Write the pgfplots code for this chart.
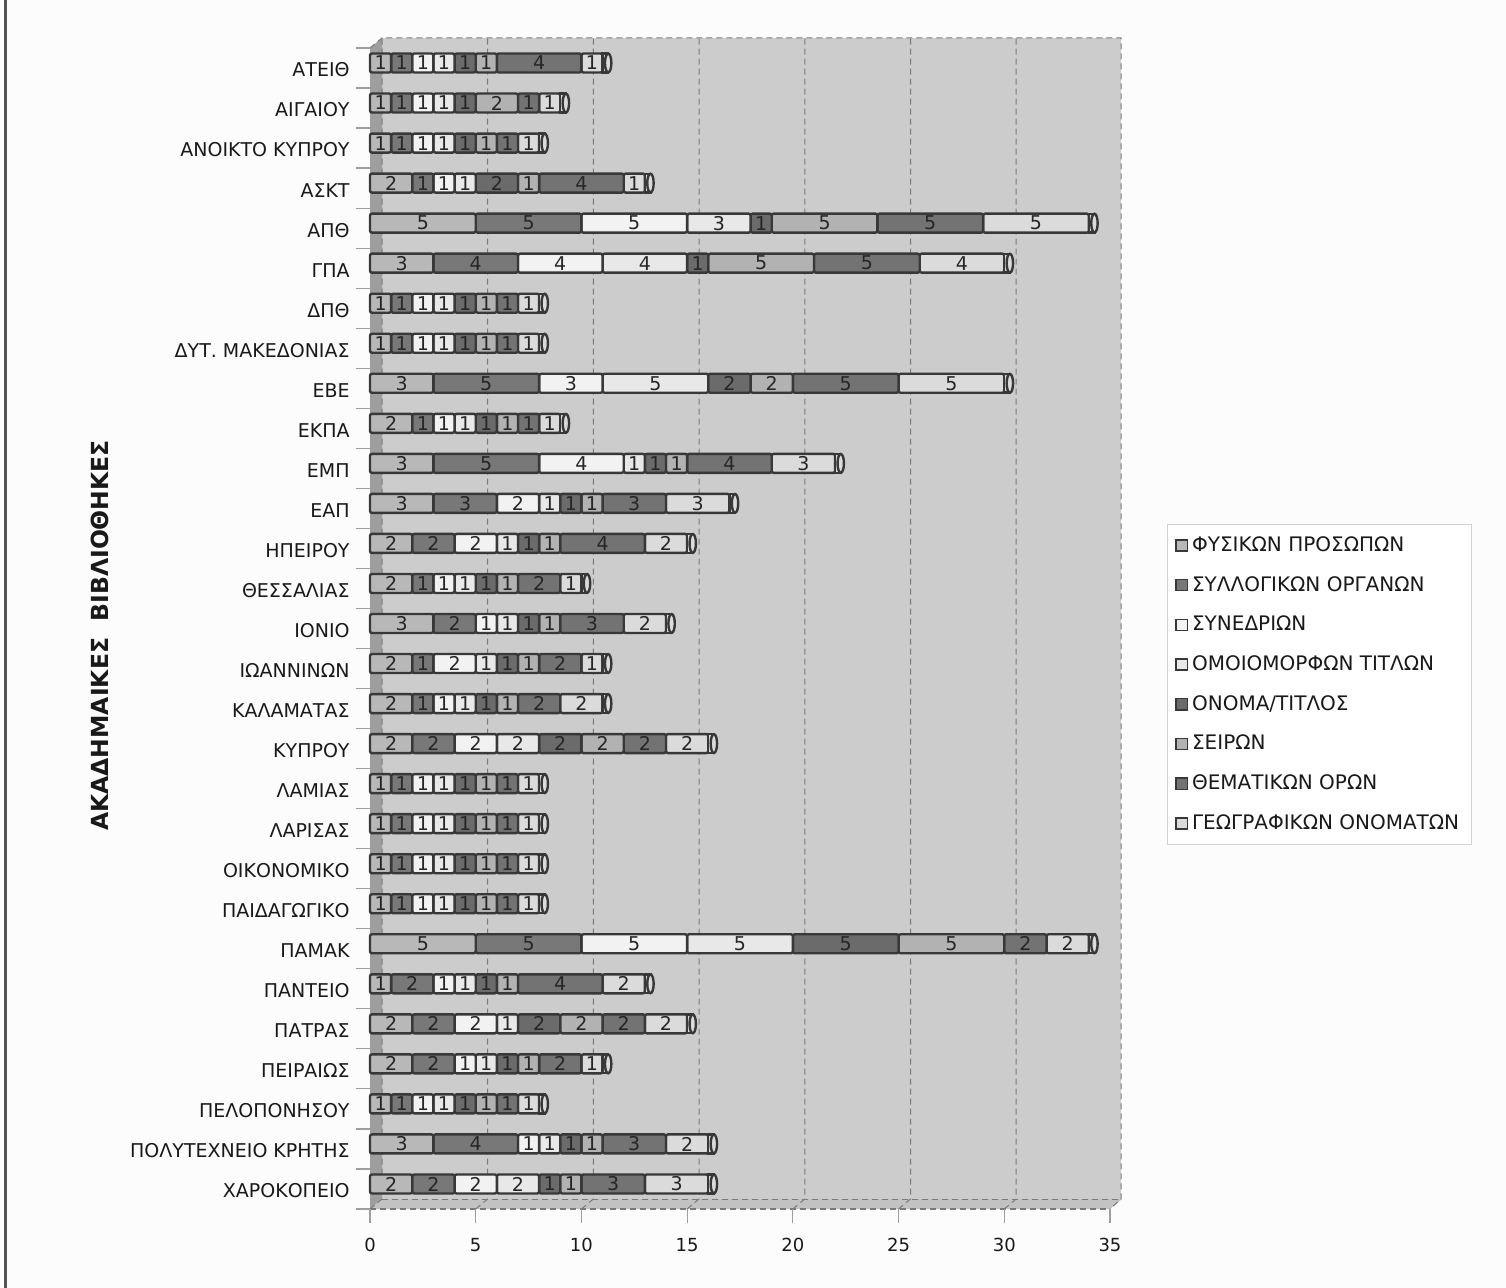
\documentclass[border=0pt]{standalone}
\usepackage{fontspec}
\setmainfont{DejaVu Sans}
\usepackage{pgfplots}
\usepackage{pgfplotstable}
\pgfplotsset{compat=1.18}
\pgfplotstableread{
y a b c d e f g h t
0 1 1 1 1 1 1 4 1 11
-1 1 1 1 1 1 2 1 1 9
-2 1 1 1 1 1 1 1 1 8
-3 2 1 1 1 2 1 4 1 13
-4 5 5 5 3 1 5 5 5 34
-5 3 4 4 4 1 5 5 4 30
-6 1 1 1 1 1 1 1 1 8
-7 1 1 1 1 1 1 1 1 8
-8 3 5 3 5 2 2 5 5 30
-9 2 1 1 1 1 1 1 1 9
-10 3 5 4 1 1 1 4 3 22
-11 3 3 2 1 1 1 3 3 17
-12 2 2 2 1 1 1 4 2 15
-13 2 1 1 1 1 1 2 1 10
-14 3 2 1 1 1 1 3 2 14
-15 2 1 2 1 1 1 2 1 11
-16 2 1 1 1 1 1 2 2 11
-17 2 2 2 2 2 2 2 2 16
-18 1 1 1 1 1 1 1 1 8
-19 1 1 1 1 1 1 1 1 8
-20 1 1 1 1 1 1 1 1 8
-21 1 1 1 1 1 1 1 1 8
-22 5 5 5 5 5 5 2 2 34
-23 1 2 1 1 1 1 4 2 13
-24 2 2 2 1 2 2 2 2 15
-25 2 2 1 1 1 1 2 1 11
-26 1 1 1 1 1 1 1 1 8
-27 3 4 1 1 1 1 3 2 16
-28 2 2 2 2 1 1 3 3 16
}\data
\definecolor{sa}{gray}{0.72}
\definecolor{sb}{gray}{0.47}
\definecolor{sc}{gray}{0.95}
\definecolor{sd}{gray}{0.91}
\definecolor{se}{gray}{0.42}
\definecolor{sf}{gray}{0.70}
\definecolor{sg}{gray}{0.45}
\definecolor{sh}{gray}{0.86}
\definecolor{barline}{gray}{0.22}
\definecolor{wall}{gray}{0.80}
\definecolor{sidewall}{gray}{0.62}
\definecolor{floorc}{gray}{0.76}
\definecolor{gridc}{gray}{0.48}
\definecolor{tickc}{gray}{0.62}
\pgfdeclareplotmark{barcap}{%
  \pgfsetlinewidth{1.2pt}\pgfsetstrokecolor{barline}\pgfsetfillcolor{sh}%
  \pgfpathmoveto{\pgfpoint{0pt}{7.2pt}}%
  \pgfpathlineto{\pgfpoint{2.8pt}{7.2pt}}%
  \pgfpathlineto{\pgfpoint{2.8pt}{-2.2pt}}%
  \pgfpathlineto{\pgfpoint{0pt}{-2.2pt}}%
  \pgfpathclose\pgfusepath{fill,stroke}%
  \pgfpathellipse{\pgfpoint{2.8pt}{2.5pt}}{\pgfpoint{1.6pt}{0pt}}{\pgfpoint{0pt}{4.7pt}}%
  \pgfusepath{fill,stroke}%
}
\begin{document}
\begin{tikzpicture}
\begin{scope}[x=0.5pt,y=-0.5pt]
\useasboundingbox (0,0) rectangle (1506,1288);
\fill[gray!2] (0,0) rectangle (1506,1288);
\fill[gray!65!black] (4,0) rectangle (7,1288);
% back wall, side wall and floor
\fill[wall] (382,38) rectangle (1121,1199);
\fill[sidewall] (370,48) -- (382,38) -- (382,1199) -- (370,1209) -- cycle;
\fill[floorc] (370,1209) -- (382,1199) -- (1122,1199) -- (1110,1209) -- cycle;
\draw[gridc,line width=0.5pt,densely dashed] (370,48) -- (382,38) -- (1121,38) -- (1121,1199) -- (1110,1209);
\draw[gridc,line width=0.5pt,densely dashed] (382,1199) -- (1121,1199);
\foreach \g in {0,5,...,30}{
  \draw[gridc,line width=0.5pt,densely dashed] (370+21.14*\g,1209) -- (382+21.14*\g,1199) -- (382+21.14*\g,38);
}
\draw[gridc,line width=0.7pt,densely dashed] (370,1209) -- (1110,1209);
\end{scope}
\begin{axis}[
  at={(185pt,-604.5pt)},anchor=south west,
  scale only axis,width=370pt,height=580.5pt,
  xmin=0,xmax=35,ymin=-28.5,ymax=0.5,
  xbar stacked,bar width=9.5pt,clip=false,
  axis x line*=bottom,axis y line*=left,
  axis line style={draw=none},
  tick align=outside,
  xtick={0,5,...,35},
  major tick style={draw=tickc,line width=0.6pt},
  ytick={0,-1,...,-28},
  yticklabels={ΑΤΕΙΘ,ΑΙΓΑΙΟΥ,ΑΝΟΙΚΤΟ ΚΥΠΡΟΥ,ΑΣΚΤ,ΑΠΘ,ΓΠΑ,ΔΠΘ,ΔΥΤ. ΜΑΚΕΔΟΝΙΑΣ,ΕΒΕ,ΕΚΠΑ,ΕΜΠ,ΕΑΠ,ΗΠΕΙΡΟΥ,ΘΕΣΣΑΛΙΑΣ,ΙΟΝΙΟ,ΙΩΑΝΝΙΝΩΝ,ΚΑΛΑΜΑΤΑΣ,ΚΥΠΡΟΥ,ΛΑΜΙΑΣ,ΛΑΡΙΣΑΣ,ΟΙΚΟΝΟΜΙΚΟ,ΠΑΙΔΑΓΩΓΙΚΟ,ΠΑΜΑΚ,ΠΑΝΤΕΙΟ,ΠΑΤΡΑΣ,ΠΕΙΡΑΙΩΣ,ΠΕΛΟΠΟΝΗΣΟΥ,ΠΟΛΥΤΕΧΝΕΙΟ ΚΡΗΤΗΣ,ΧΑΡΟΚΟΠΕΙΟ},
  minor ytick={0.5,-0.5,...,-28.5},
  minor tick length=7pt,
  major tick length=7pt,
  major y tick style={draw=none},
  minor y tick style={draw=tickc,line width=0.6pt},
  yticklabel style={font=\fontsize{9.5}{10}\selectfont,text=black!90,xshift=-2pt,yshift=-1pt,inner sep=1pt},
  xticklabel style={font=\fontsize{9}{10}\selectfont,text=black!90,yshift=-4pt,/pgf/number format/assume math mode=true},
  ylabel={ΑΚΑΔΗΜΑΙΚΕΣ\ \ ΒΙΒΛΙΟΘΗΚΕΣ},
  every axis y label/.style={at={(axis description cs:-0.365,0.494)},rotate=90,anchor=center,font=\fontsize{11.75}{12}\selectfont\bfseries,text=black!90},
  every node near coord/.append style={font=\fontsize{9.5}{10}\selectfont,text=black!85,anchor=center,inner sep=0pt},
  legend style={at={(1.077,0.59)},anchor=north west,draw=gray!35,fill=white,line width=0.5pt,
    font=\fontsize{10}{10}\selectfont,text=black!90,row sep=6.95pt,inner xsep=4pt,inner ysep=4pt,
    cells={anchor=west}},
  legend image code/.code={\draw[#1,line width=0.7pt,draw=barline,rounded corners=0pt] (0pt,-2.8pt) rectangle (5.6pt,2.8pt);},
]
\addplot[fill=sa,draw=barline,line width=1.2pt,rounded corners=1pt,bar shift=2.5pt,nodes near coords={\pgfmathprintnumber[assume math mode=true]{\val}},visualization depends on={\thisrow{a} \as \val}] table[x=a,y=y] {\data};
\addplot[fill=sb,draw=barline,line width=1.2pt,rounded corners=1pt,bar shift=2.5pt,nodes near coords={\pgfmathprintnumber[assume math mode=true]{\val}},visualization depends on={\thisrow{b} \as \val}] table[x=b,y=y] {\data};
\addplot[fill=sc,draw=barline,line width=1.2pt,rounded corners=1pt,bar shift=2.5pt,nodes near coords={\pgfmathprintnumber[assume math mode=true]{\val}},visualization depends on={\thisrow{c} \as \val}] table[x=c,y=y] {\data};
\addplot[fill=sd,draw=barline,line width=1.2pt,rounded corners=1pt,bar shift=2.5pt,nodes near coords={\pgfmathprintnumber[assume math mode=true]{\val}},visualization depends on={\thisrow{d} \as \val}] table[x=d,y=y] {\data};
\addplot[fill=se,draw=barline,line width=1.2pt,rounded corners=1pt,bar shift=2.5pt,nodes near coords={\pgfmathprintnumber[assume math mode=true]{\val}},visualization depends on={\thisrow{e} \as \val}] table[x=e,y=y] {\data};
\addplot[fill=sf,draw=barline,line width=1.2pt,rounded corners=1pt,bar shift=2.5pt,nodes near coords={\pgfmathprintnumber[assume math mode=true]{\val}},visualization depends on={\thisrow{f} \as \val}] table[x=f,y=y] {\data};
\addplot[fill=sg,draw=barline,line width=1.2pt,rounded corners=1pt,bar shift=2.5pt,nodes near coords={\pgfmathprintnumber[assume math mode=true]{\val}},visualization depends on={\thisrow{g} \as \val}] table[x=g,y=y] {\data};
\addplot[fill=sh,draw=barline,line width=1.2pt,rounded corners=1pt,bar shift=2.5pt,nodes near coords={\pgfmathprintnumber[assume math mode=true]{\val}},visualization depends on={\thisrow{h} \as \val}] table[x=h,y=y] {\data};
\addplot[stack plots=false,sharp plot,only marks,mark=barcap,forget plot] table[x=t,y=y] {\data};
\legend{ΦΥΣΙΚΩΝ ΠΡΟΣΩΠΩΝ,ΣΥΛΛΟΓΙΚΩΝ ΟΡΓΑΝΩΝ,ΣΥΝΕΔΡΙΩΝ,ΟΜΟΙΟΜΟΡΦΩΝ ΤΙΤΛΩΝ,ΟΝΟΜΑ/ΤΙΤΛΟΣ,ΣΕΙΡΩΝ,ΘΕΜΑΤΙΚΩΝ ΟΡΩΝ,ΓΕΩΓΡΑΦΙΚΩΝ ΟΝΟΜΑΤΩΝ}
\end{axis}
\end{tikzpicture}
\end{document}
